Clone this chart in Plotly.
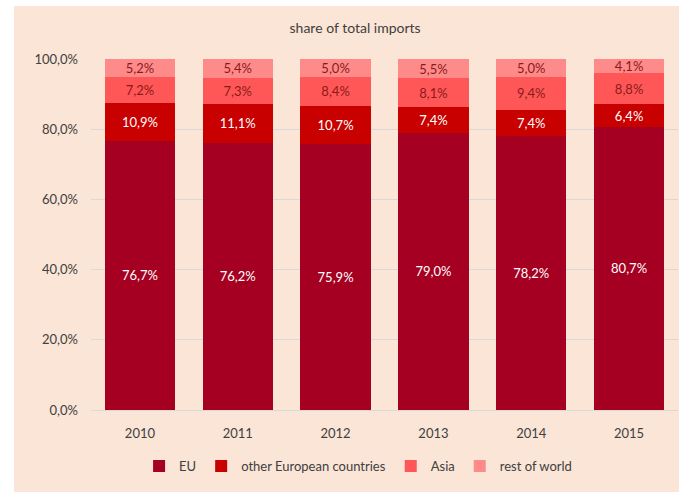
import plotly.graph_objects as go

years = ["2010", "2011", "2012", "2013", "2014", "2015"]
eu = [76.7, 76.2, 75.9, 79.0, 78.2, 80.7]
other_europe = [10.9, 11.1, 10.7, 7.4, 7.4, 6.4]
asia = [7.2, 7.3, 8.4, 8.1, 9.4, 8.8]
rest_of_world = [5.2, 5.4, 5.0, 5.5, 5.0, 4.1]

y_ticks = [0, 20, 40, 60, 80, 100]
y_tick_labels = ["0,0%", "20,0%", "40,0%", "60,0%", "80,0%", "100,0%"]

series = [
    ("EU", eu, "#A50021", "#FFFFFF"),
    ("other European countries", other_europe, "#C80000", "#FFFFFF"),
    ("Asia", asia, "#FF5757", "#8B1A1A"),
    ("rest of world", rest_of_world, "#FF8A8A", "#8B1A1A"),
]

FONT = "Lato, Open Sans, sans-serif"
BG = "#FBE5D6"

fig = go.Figure()
for name, vals, color, txtcolor in series:
    fig.add_trace(go.Bar(
        x=years, y=vals, name=name,
        marker=dict(color=color, line=dict(width=0)),
        texttemplate="%{y:.1f}%",
        textposition="inside",
        insidetextanchor="middle",
        textangle=0,
        textfont=dict(family=FONT, size=13, color=txtcolor),
    ))

# white strips along the left and top edges of the page
edge_strips = [
    dict(type="rect", xref="paper", yref="paper",
         x0=-0.3, x1=-0.131, y0=-0.5, y1=1.5,
         fillcolor="#FFFFFF", line=dict(width=0), layer="below"),
    dict(type="rect", xref="paper", yref="paper",
         x0=-0.3, x1=1.2, y0=1.151, y1=1.5,
         fillcolor="#FFFFFF", line=dict(width=0), layer="below"),
]

fig.update_layout(
    barmode="stack",
    bargap=0.28,
    width=679, height=492,
    margin=dict(l=91, r=1, t=59, b=82),
    separators=",.",
    paper_bgcolor=BG,
    plot_bgcolor="rgba(0,0,0,0)",
    font=dict(family=FONT, size=13, color="#404040"),
    title=dict(text="share of total imports", x=0.523, xanchor="center",
               y=0.943, yanchor="middle",
               font=dict(family=FONT, size=14, color="#404040")),
    uniformtext=dict(minsize=12, mode="show"),
    legend=dict(orientation="h", x=0.455, xanchor="center", y=-0.16,
                yanchor="middle", font=dict(family=FONT, size=13, color="#404040"),
                itemwidth=30, traceorder="normal", bgcolor="rgba(0,0,0,0)"),
    xaxis=dict(showgrid=False, showline=False, ticks="", ticklabelstandoff=14,
               tickfont=dict(family=FONT, size=13, color="#404040")),
    yaxis=dict(range=[0, 100], tickvals=y_ticks, ticktext=y_tick_labels,
               showgrid=True, gridcolor="#D9D9D9", gridwidth=1,
               zeroline=True, zerolinecolor="#D9D9D9", zerolinewidth=1,
               showline=False, ticks="", ticklabelstandoff=12,
               tickfont=dict(family=FONT, size=13, color="#404040")),
    shapes=edge_strips,
)

fig.write_html("out.html")
